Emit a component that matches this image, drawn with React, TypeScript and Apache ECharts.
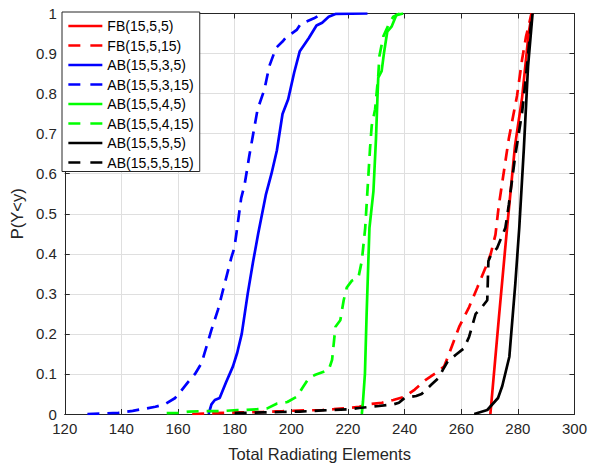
import React, { useEffect, useRef } from "react";
import * as echarts from "echarts";

const FONT = '"Liberation Sans", Arial, Helvetica, sans-serif';
const INK = "#262626";
const GRID = "#dfdfdf";

// Axis ranges
const xRange = { min: 120, max: 300, step: 20 };
const yRange = { min: 0, max: 1, step: 0.1 };

// Empirical CDF points [total radiating elements, P(Y<y)]
const fb_15_5_5: [number, number][] = [
  [270.3, 0], [273.3, 0.24], [276.2, 0.465], [279.0, 0.67], [281.5, 0.79],
  [283.8, 0.95], [285.0, 1],
];

const fb_15_5_15: [number, number][] = [
  [165, 0], [169, 0.001], [173, 0.002], [177, 0.003], [181, 0.004], [184, 0.004],
  [190, 0.005], [197, 0.007], [200, 0.008], [211, 0.01], [215, 0.012], [220, 0.015],
  [224, 0.018], [228, 0.025], [232, 0.028], [236, 0.035], [240, 0.043], [243.6, 0.061],
  [247.6, 0.086], [251, 0.102], [254, 0.119], [255.8, 0.152], [259.3, 0.218],
  [262.8, 0.267], [265.7, 0.316], [268.6, 0.366], [270.4, 0.399], [272.1, 0.448],
  [273.3, 0.522], [276.8, 0.687], [279.7, 0.794], [281.5, 0.885], [282.9, 0.943],
  [283.8, 0.968], [284.7, 0.997], [285, 1],
];

const ab_15_5_3_5: [number, number][] = [
  [170.8, 0], [171.8, 0.024], [173, 0.035], [174.7, 0.04], [177, 0.08], [179.4, 0.119],
  [180.9, 0.153], [182.5, 0.2], [184.6, 0.3], [186.5, 0.38], [188.3, 0.45], [191, 0.547],
  [193, 0.6], [194.9, 0.658], [196.9, 0.749], [198.9, 0.786], [201, 0.852], [203, 0.906],
  [206.2, 0.939], [208.9, 0.97], [210.9, 0.977], [213.2, 0.992], [215.6, 0.999],
  [226.9, 1],
];

const ab_15_5_3_15: [number, number][] = [
  [128, 0], [139, 0.003], [144, 0.008], [147.3, 0.012], [152, 0.018], [155.5, 0.025],
  [159, 0.04], [161, 0.057], [163.6, 0.08], [166, 0.1], [168.3, 0.127], [169.2, 0.148],
  [171.8, 0.21], [174.1, 0.26], [177, 0.34], [178.8, 0.39], [179.9, 0.415], [180.9, 0.465],
  [182.3, 0.539], [183.5, 0.572], [185.2, 0.646], [188.1, 0.761], [190.5, 0.81],
  [192.2, 0.868], [194.6, 0.914], [196.9, 0.93], [198, 0.939], [201.9, 0.959],
  [203.3, 0.974], [208, 0.988], [210.9, 1],
];

const ab_15_5_4_5: [number, number][] = [
  [224.9, 0], [225.3, 0.03], [226, 0.1], [226.6, 0.25], [227.2, 0.38], [227.6, 0.465],
  [229, 0.556], [229.9, 0.687], [230.4, 0.786], [230.7, 0.84], [231.9, 0.856],
  [232.7, 0.9], [233.9, 0.955], [235.4, 0.967], [237.1, 0.996], [239.5, 1],
];

const ab_15_5_4_15: [number, number][] = [
  [156, 0.002], [160, 0.003], [164, 0.006], [168, 0.007], [173, 0.007], [177, 0.008],
  [181, 0.01], [184, 0.01], [188, 0.012], [191.5, 0.014], [195, 0.026], [198.6, 0.03],
  [202.1, 0.044], [203.9, 0.065], [206.2, 0.09], [208.5, 0.098], [213.2, 0.11],
  [214.4, 0.135], [215.6, 0.218], [217.3, 0.234], [218.5, 0.284], [219.6, 0.316],
  [221.4, 0.333], [223.7, 0.341], [224.9, 0.382], [226.1, 0.465], [227.8, 0.663],
  [228.4, 0.72], [229.6, 0.761], [230.7, 0.844], [231.1, 0.893], [232.5, 0.943],
  [234.6, 0.976], [236, 0.992], [238.3, 1],
];

const ab_15_5_5_5: [number, number][] = [
  [264.6, 0], [269.2, 0.01], [273, 0.04], [274.5, 0.07], [277, 0.143], [279.1, 0.325],
  [280.5, 0.465], [282.1, 0.66], [283.6, 0.868], [285.2, 1],
];

const ab_15_5_5_15: [number, number][] = [
  [180, 0.002], [185, 0.003], [190, 0.004], [197, 0.005], [203, 0.006], [211, 0.009],
  [215, 0.01], [220.8, 0.012], [224, 0.015], [228, 0.018], [231, 0.02], [236, 0.024],
  [238, 0.028], [240, 0.04], [244.1, 0.045], [246, 0.05], [249.4, 0.073], [252, 0.09],
  [253.5, 0.11], [255.2, 0.131], [258.1, 0.148], [261, 0.164], [262.8, 0.193],
  [265.1, 0.25], [266.9, 0.263], [269.2, 0.284], [269.6, 0.382], [270.4, 0.395],
  [272.7, 0.415], [275.6, 0.465], [276.8, 0.522], [279.1, 0.646], [281.5, 0.753],
  [282.9, 0.844], [284, 0.926], [284.9, 0.997], [285.1, 1],
];

const curves = [
  { name: "FB(15,5,5)", color: "#ff0000", dashed: false, data: fb_15_5_5 },
  { name: "FB(15,5,15)", color: "#ff0000", dashed: true, data: fb_15_5_15 },
  { name: "AB(15,5,3,5)", color: "#0000ff", dashed: false, data: ab_15_5_3_5 },
  { name: "AB(15,5,3,15)", color: "#0000ff", dashed: true, data: ab_15_5_3_15 },
  { name: "AB(15,5,4,5)", color: "#00ff00", dashed: false, data: ab_15_5_4_5 },
  { name: "AB(15,5,4,15)", color: "#00ff00", dashed: true, data: ab_15_5_4_15 },
  { name: "AB(15,5,5,5)", color: "#000000", dashed: false, data: ab_15_5_5_5 },
  { name: "AB(15,5,5,15)", color: "#000000", dashed: true, data: ab_15_5_5_15 },
];

const LINE_W = 2.7;
const DASH = [12, 8];

function frameAxis(position: string, range: typeof xRange, extra: object = {}) {
  return {
    type: "value",
    position,
    min: range.min,
    max: range.max,
    interval: range.step,
    axisLine: { show: true, onZero: false, lineStyle: { color: INK, width: 1 } },
    axisTick: { show: true, inside: true, length: 5, lineStyle: { color: INK, width: 1 } },
    axisLabel: { show: false },
    splitLine: { show: false },
    ...extra,
  };
}

export default function App() {
  const ref = useRef<HTMLDivElement>(null);

  useEffect(() => {
    if (!ref.current) return;
    const chart = echarts.init(ref.current, null, { renderer: "svg" });
    chart.setOption({
      animation: false,
      backgroundColor: "#ffffff",
      grid: { left: 62, right: 14, top: 13.5, bottom: 49 },
      xAxis: [
        frameAxis("bottom", xRange, {
          name: "Total Radiating Elements",
          nameLocation: "middle",
          nameGap: 31,
          nameTextStyle: { fontSize: 16.5, color: INK, fontFamily: FONT },
          axisLabel: { show: true, fontSize: 15, color: INK, fontFamily: FONT, margin: 7 },
          splitLine: { show: true, lineStyle: { color: GRID, width: 1 } },
        }),
        frameAxis("top", xRange),
      ],
      yAxis: [
        frameAxis("left", yRange, {
          name: "P(Y<y)",
          nameLocation: "middle",
          nameGap: 36,
          nameTextStyle: { fontSize: 16.5, color: INK, fontFamily: FONT },
          axisLabel: { show: true, fontSize: 15, color: INK, fontFamily: FONT, margin: 8 },
          splitLine: { show: true, lineStyle: { color: GRID, width: 1 } },
        }),
        frameAxis("right", yRange),
      ],
      legend: {
        orient: "vertical",
        left: 62,
        top: 12,
        itemWidth: 34,
        itemHeight: 14,
        itemGap: 5.5,
        padding: [7, 6, 2, 5],
        backgroundColor: "#ffffff",
        borderColor: INK,
        borderWidth: 1,
        // hide the marker dot, keep only the line sample
        itemStyle: { opacity: 0 },
        textStyle: { fontSize: 14, color: "#000000", fontFamily: FONT },
        data: curves.map((c) => ({
          name: c.name,
          lineStyle: c.dashed ? { type: [12, 10], width: LINE_W } : { width: LINE_W },
        })),
      },
      series: curves.map((c) => ({
        type: "line",
        name: c.name,
        xAxisIndex: 0,
        yAxisIndex: 0,
        data: c.data,
        symbol: "none",
        showSymbol: false,
        color: c.color,
        lineStyle: { color: c.color, width: LINE_W, type: c.dashed ? DASH : "solid" },
      })),
    });
    return () => chart.dispose();
  }, []);

  return (
    <div
      ref={ref}
      style={{ position: "absolute", left: 0, top: 0, width: 590, height: 467, background: "#fff" }}
    />
  );
}
